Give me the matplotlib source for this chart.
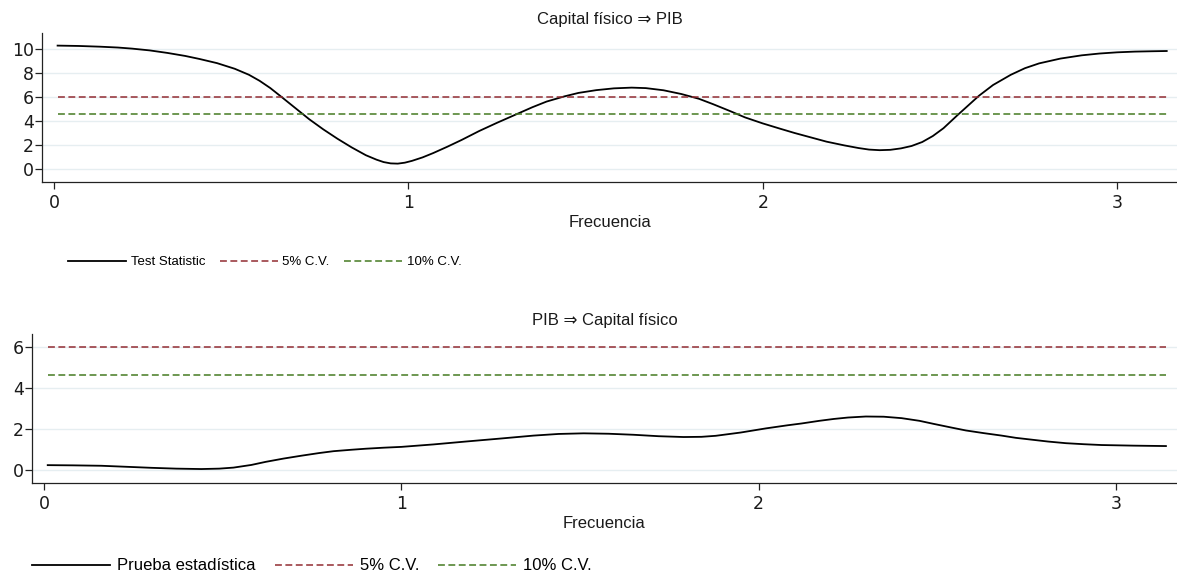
import matplotlib
matplotlib.use('Agg')
import matplotlib.pyplot as plt
from matplotlib import font_manager
from matplotlib.lines import Line2D

freq_top = [0.01, 0.07, 0.13, 0.18, 0.22, 0.27, 0.32, 0.37, 0.41, 0.46, 0.51, 0.55, 0.58, 0.61,
            0.64, 0.68, 0.72, 0.76, 0.80, 0.84, 0.88, 0.91, 0.93, 0.95, 0.97, 0.99, 1.01, 1.04,
            1.07, 1.11, 1.15, 1.20, 1.25, 1.30, 1.35, 1.39, 1.44, 1.48, 1.53, 1.58, 1.63, 1.67,
            1.72, 1.77, 1.82, 1.86, 1.91, 1.95, 2.00, 2.05, 2.09, 2.14, 2.18, 2.23, 2.27, 2.30,
            2.33, 2.36, 2.39, 2.42, 2.45, 2.48, 2.51, 2.55, 2.58, 2.61, 2.65, 2.70, 2.74, 2.78,
            2.84, 2.90, 2.95, 3.00, 3.05, 3.10, 3.14]
stat_top = [10.28, 10.25, 10.19, 10.12, 10.03, 9.88, 9.67, 9.42, 9.17, 8.82, 8.35, 7.85, 7.35, 6.75,
            6.05, 5.10, 4.15, 3.30, 2.52, 1.80, 1.15, 0.78, 0.58, 0.47, 0.45, 0.53, 0.68, 0.97,
            1.33, 1.86, 2.42, 3.17, 3.85, 4.50, 5.15, 5.62, 6.05, 6.34, 6.57, 6.72, 6.78, 6.74,
            6.56, 6.25, 5.85, 5.40, 4.80, 4.30, 3.80, 3.35, 3.00, 2.60, 2.28, 1.97, 1.75, 1.62,
            1.57, 1.60, 1.72, 1.92, 2.25, 2.75, 3.40, 4.50, 5.30, 6.10, 7.00, 7.85, 8.40, 8.80,
            9.20, 9.47, 9.62, 9.72, 9.78, 9.81, 9.83]

freq_bot = [0.01, 0.08, 0.16, 0.23, 0.30, 0.37, 0.44, 0.49, 0.53, 0.58, 0.62, 0.67, 0.72, 0.77,
            0.81, 0.86, 0.90, 0.95, 1.00, 1.09, 1.18, 1.28, 1.37, 1.44, 1.51, 1.58, 1.65, 1.72,
            1.79, 1.84, 1.88, 1.95, 2.02, 2.08, 2.12, 2.17, 2.21, 2.25, 2.30, 2.35, 2.40, 2.45,
            2.49, 2.54, 2.58, 2.63, 2.68, 2.72, 2.77, 2.81, 2.86, 2.91, 2.96, 3.05, 3.14]
stat_bot = [0.24, 0.23, 0.21, 0.16, 0.11, 0.07, 0.05, 0.07, 0.12, 0.25, 0.40, 0.56, 0.70, 0.83,
            0.92, 0.99, 1.04, 1.09, 1.13, 1.25, 1.39, 1.54, 1.68, 1.76, 1.79, 1.77, 1.72, 1.65,
            1.61, 1.62, 1.67, 1.83, 2.03, 2.18, 2.27, 2.40, 2.49, 2.56, 2.61, 2.60, 2.53, 2.40,
            2.25, 2.07, 1.93, 1.80, 1.68, 1.57, 1.47, 1.39, 1.31, 1.26, 1.22, 1.19, 1.17]

freq_range = [0.01, 3.14]
cv5 = 5.99
cv10 = 4.61

titles = ['Capital físico ⇒ PIB', 'PIB ⇒ Capital físico']
legend_first = ['Test Statistic', 'Prueba estadística']
cv_labels = ['5% C.V.', '10% C.V.']

red = '#922c32'
green = '#457a22'
grid_c = '#e6eef1'
txt = ['Liberation Sans', 'DejaVu Sans']

try:
    font_manager.findfont(font_manager.FontProperties(family='Liberation Sans Narrow'),
                          fallback_to_default=False)
    narrow = True
except ValueError:
    narrow = False

W, H = 1177, 578
fig = plt.figure(figsize=(W / 100, H / 100), dpi=100)
ax1 = fig.add_axes([42 / W, 1 - 182 / H, 1135 / W, 149 / H])
ax2 = fig.add_axes([32 / W, 1 - 483 / H, 1145 / W, 149 / H])


def style(ax, yticks, ylim, xlim):
    for s in ['top', 'right']:
        ax.spines[s].set_visible(False)
    for s in ['left', 'bottom']:
        ax.spines[s].set_color('#222222')
        ax.spines[s].set_linewidth(0.9)
    ax.set_yticks(yticks)
    ax.set_xticks([0, 1, 2, 3])
    ax.set_ylim(*ylim)
    ax.set_xlim(*xlim)
    ax.yaxis.grid(True, color=grid_c, lw=1.0)
    ax.set_axisbelow(True)
    ax.tick_params(axis='both', length=5, width=0.9, color='#222222', labelsize=12.5)
    ax.tick_params(axis='y', pad=1)
    ax.tick_params(axis='x', pad=3.5)
    for lab in ax.get_xticklabels() + ax.get_yticklabels():
        lab.set_family('DejaVu Sans')
        lab.set_color('#1a1a1a')
    ax.set_xlabel('Frecuencia', family=txt, fontsize=12, labelpad=2, color='#1a1a1a')


for ax, f, s, t in [(ax1, freq_top, stat_top, titles[0]), (ax2, freq_bot, stat_bot, titles[1])]:
    ax.plot(f, s, color='black', lw=1.3, solid_joinstyle='round')
    ax.plot(freq_range, [cv5, cv5], color=red, lw=1.1, ls=(0, (4.5, 2.3)))
    ax.plot(freq_range, [cv10, cv10], color=green, lw=1.1, ls=(0, (4.5, 2.3)))
    ax.set_title(t, family=txt, fontsize=12, pad=6.5, color='#1a1a1a')

style(ax1, [0, 2, 4, 6, 8, 10], (-1.08, 11.33), (-0.034, 3.169))
style(ax2, [0, 2, 4, 6], (-0.63, 6.63), (-0.034, 3.171))


def handles():
    return [Line2D([], [], color='black', lw=1.3),
            Line2D([], [], color=red, lw=1.1, ls=(0, (4.5, 2.3))),
            Line2D([], [], color=green, lw=1.1, ls=(0, (4.5, 2.3)))]


if narrow:
    fp1 = dict(family='Liberation Sans Narrow', size=11)
    em1 = 11 * 100 / 72
else:
    fp1 = dict(family=txt, size=9.5)
    em1 = 9.5 * 100 / 72

fig.legend(handles(), [legend_first[0]] + cv_labels, loc='center left',
           bbox_to_anchor=(68 / W, 1 - 262 / H), frameon=False, ncol=3, borderpad=0,
           borderaxespad=0, prop=fp1, handlelength=58 / em1, handletextpad=5 / em1,
           columnspacing=14 / em1)

em2 = 12 * 100 / 72
fig.legend(handles(), [legend_first[1]] + cv_labels, loc='center left',
           bbox_to_anchor=(32 / W, 1 - 566 / H), frameon=False, ncol=3, borderpad=0,
           borderaxespad=0, prop=dict(family=txt, size=12), handlelength=78 / em2,
           handletextpad=7 / em2, columnspacing=19 / em2)

fig.savefig('out.png', dpi=100)
